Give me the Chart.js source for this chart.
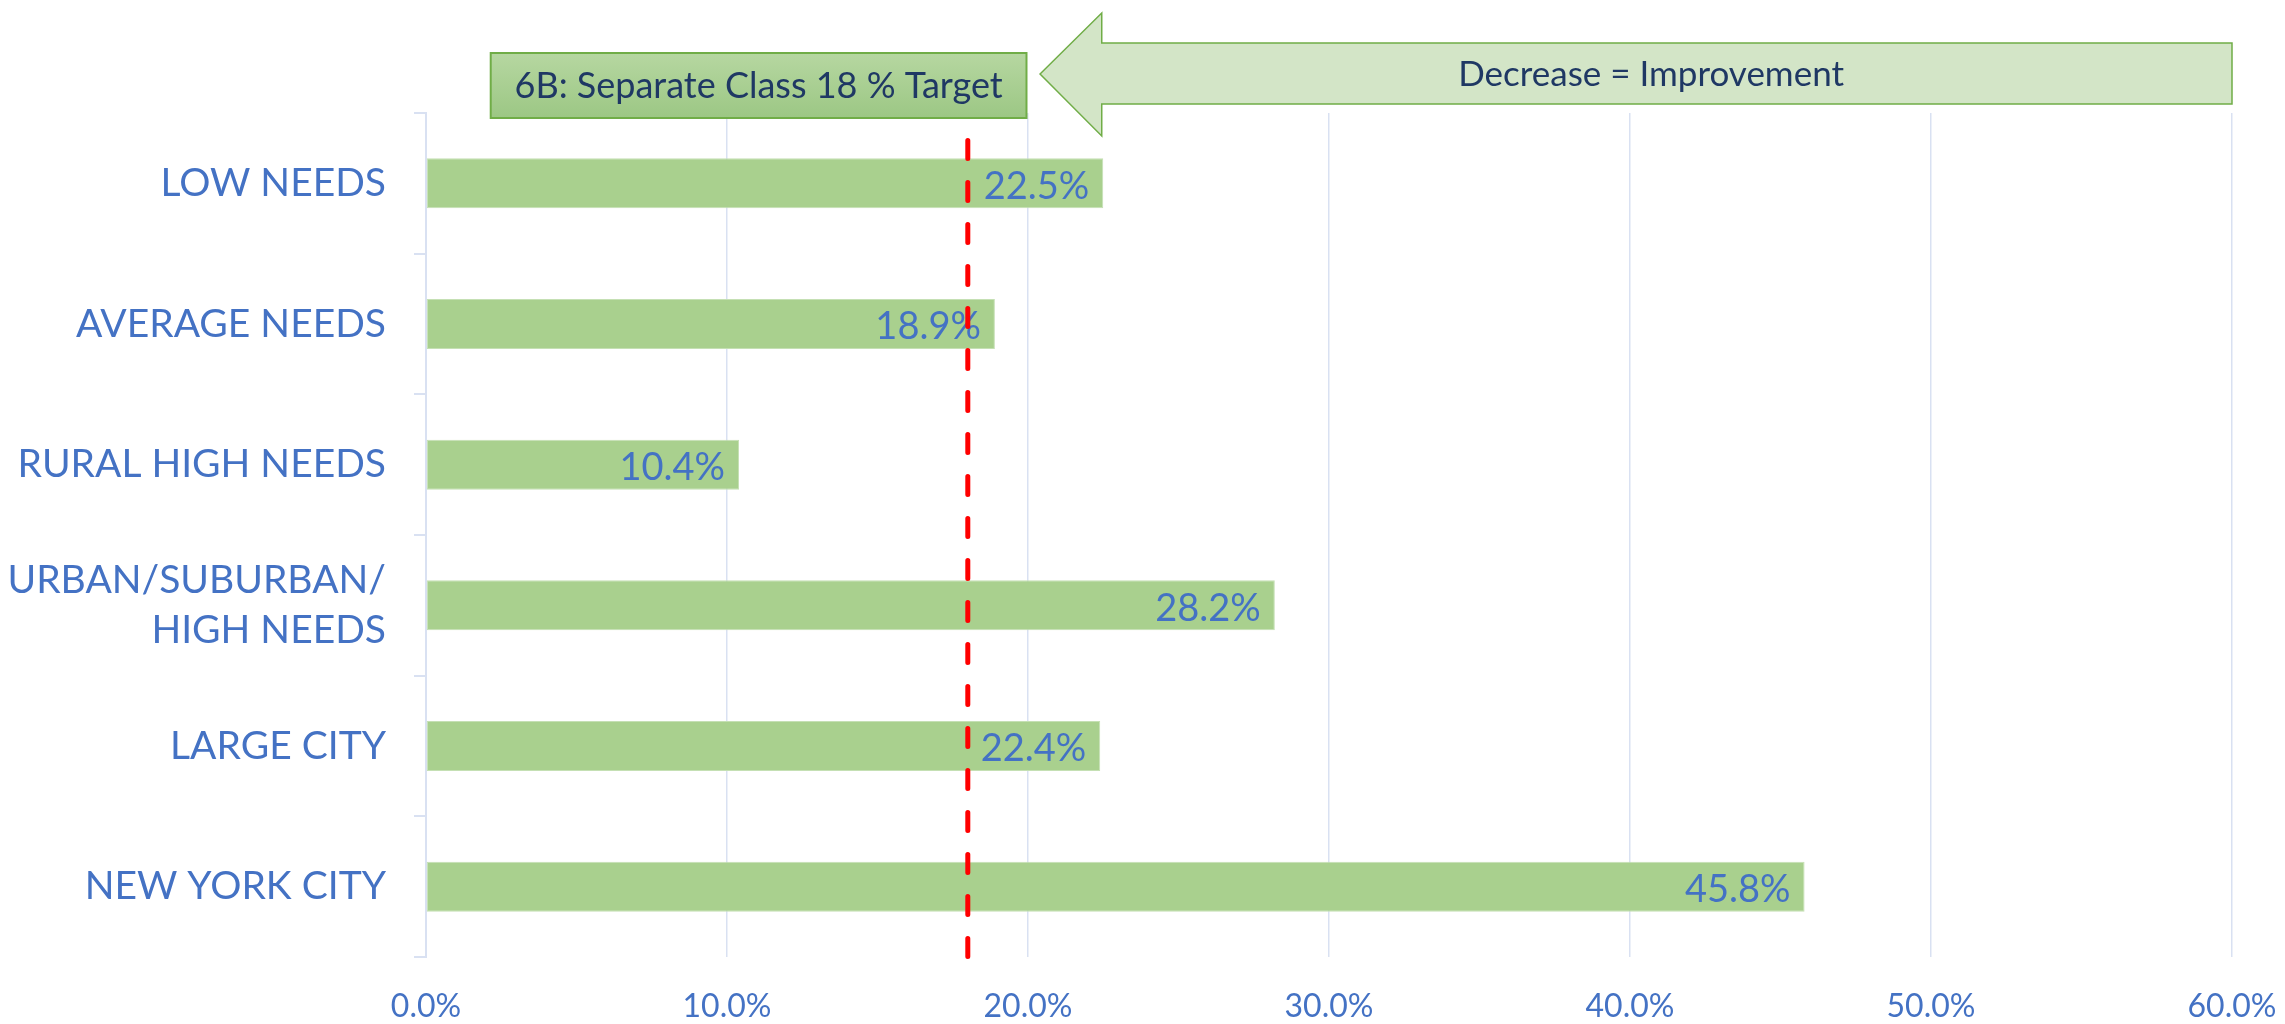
<!DOCTYPE html>
<html>
<head>
<meta charset="utf-8">
<script src="https://cdn.jsdelivr.net/npm/chart.js@4.4.1/dist/chart.umd.min.js"></script>
<style>
html,body{margin:0;padding:0;background:#fff;}
canvas{display:block;}
</style>
</head>
<body>
<canvas id="c" width="2285" height="1024"></canvas>
<script>
const categories = ["LOW NEEDS", "AVERAGE NEEDS", "RURAL HIGH NEEDS", ["URBAN/SUBURBAN/", "HIGH NEEDS"], "LARGE CITY", "NEW YORK CITY"];
const values = [22.5, 18.9, 10.4, 28.2, 22.4, 45.8];
const xTicks = [0, 10, 20, 30, 40, 50, 60];
const targetValue = 18;
const targetLabel = "6B: Separate Class 18 % Target";
const arrowLabel = "Decrease = Improvement";

const BLUE = "#4472C4";
const NAVY = "#1F3864";
const FONT = "Lato, 'Open Sans', sans-serif";

const overlay = {
  id: "overlay",
  afterDatasetsDraw(chart) {
    const ctx = chart.ctx;
    const xs = chart.scales.x;
    const area = chart.chartArea;
    const meta = chart.getDatasetMeta(0);

    // data labels (inside end)
    ctx.save();
    ctx.font = "38px " + FONT;
    ctx.fillStyle = BLUE;
    ctx.textAlign = "right";
    ctx.textBaseline = "middle";
    meta.data.forEach((bar, i) => {
      ctx.fillText(values[i].toFixed(1) + "%", bar.x - 14, bar.y + 3);
    });
    ctx.restore();

    // target dashed line
    const tx = xs.getPixelForValue(targetValue);
    ctx.save();
    ctx.strokeStyle = "#FF0000";
    ctx.lineWidth = 5;
    ctx.lineCap = "round";
    ctx.setLineDash([18, 24]);
    ctx.beginPath();
    ctx.moveTo(tx, area.top - 14.5);
    ctx.lineTo(tx, area.bottom + 1);
    ctx.stroke();
    ctx.restore();

    // target box
    const bx1 = xs.getPixelForValue(2.15), bx2 = xs.getPixelForValue(19.95);
    const by1 = area.top - 60, by2 = area.top + 5;
    ctx.save();
    const g = ctx.createLinearGradient(0, by1, 0, by2);
    g.addColorStop(0, "#B6D7A1");
    g.addColorStop(1, "#9CC784");
    ctx.fillStyle = g;
    ctx.fillRect(bx1, by1, bx2 - bx1, by2 - by1);
    ctx.strokeStyle = "#70AD47";
    ctx.lineWidth = 2;
    ctx.strokeRect(bx1, by1, bx2 - bx1, by2 - by1);
    ctx.fillStyle = NAVY;
    ctx.font = "36px " + FONT;
    ctx.textAlign = "center";
    ctx.textBaseline = "middle";
    ctx.fillText(targetLabel, (bx1 + bx2) / 2, (by1 + by2) / 2 + 1);
    ctx.restore();

    // arrow
    const tip = xs.getPixelForValue(20.4), head = xs.getPixelForValue(22.45), right = xs.getPixelForValue(60);
    const ym = area.top - 39;
    ctx.save();
    ctx.beginPath();
    ctx.moveTo(tip, ym);
    ctx.lineTo(head, ym - 61);
    ctx.lineTo(head, ym - 31);
    ctx.lineTo(right, ym - 31);
    ctx.lineTo(right, ym + 30);
    ctx.lineTo(head, ym + 30);
    ctx.lineTo(head, ym + 62);
    ctx.closePath();
    ctx.fillStyle = "#D3E5C7";
    ctx.fill();
    ctx.strokeStyle = "#70AD47";
    ctx.lineWidth = 1.5;
    ctx.stroke();
    ctx.fillStyle = NAVY;
    ctx.font = "35px " + FONT;
    ctx.textAlign = "center";
    ctx.textBaseline = "middle";
    ctx.fillText(arrowLabel, xs.getPixelForValue(40.7), ym + 1);
    ctx.restore();
  }
};

new Chart(document.getElementById("c"), {
  type: "bar",
  data: {
    labels: categories,
    datasets: [{
      data: values,
      backgroundColor: "#A9D08E",
      borderColor: "#C5E0B4",
      borderWidth: 1,
      borderSkipped: false,
      categoryPercentage: 1,
      barPercentage: 0.355
    }]
  },
  options: {
    indexAxis: "y",
    responsive: false,
    animation: false,
    devicePixelRatio: 1,
    layout: { padding: { top: 113, right: 53, left: 0, bottom: 0 } },
    plugins: { legend: { display: false }, tooltip: { enabled: false } },
    scales: {
      x: {
        min: 0, max: 60,
        afterBuildTicks(scale) { scale.ticks = xTicks.map(v => ({ value: v })); },
        afterFit(scale) { scale.height = 67; scale.paddingRight = 0; scale.paddingLeft = 0; },
        grid: { color: "#D9E1F2", lineWidth: 1.5, drawTicks: false },
        border: { display: false },
        ticks: {
          color: BLUE,
          font: { family: FONT, size: 32 },
          padding: 30,
          callback: v => Number(v).toFixed(1) + "%"
        }
      },
      y: {
        afterFit(scale) { scale.width = 426; },
        grid: { offset: true, drawOnChartArea: false, drawTicks: true, tickLength: 12, color: "#D9E1F2", lineWidth: 2 },
        border: { display: true, color: "#D9E1F2", width: 2 },
        ticks: {
          color: BLUE,
          font: { family: FONT, size: 39, lineHeight: 1.3 },
          padding: 28
        }
      }
    }
  },
  plugins: [overlay]
});
</script>
</body>
</html>
